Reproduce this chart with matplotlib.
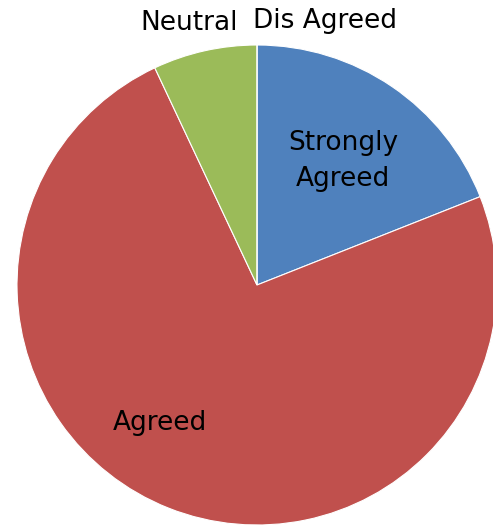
import matplotlib.pyplot as plt

# survey responses (share of respondents, %)
categories = ['Strongly\nAgreed', 'Agreed', 'Neutral', 'Dis Agreed']
shares = [19, 74, 7, 0]
colors = ['#4F81BD', '#C0504D', '#9BBB59', '#8064A2']

# label anchor points in pixel space (origin bottom-left)
label_xy = [(343, 364), (160, 102), (189, 502), (325, 504)]

fig = plt.figure(figsize=(4.93, 5.25), dpi=100)
ax = fig.add_axes([0, 0, 1, 1])

ax.pie(shares, colors=colors, startangle=90, counterclock=False,
       center=(257, 240), radius=240,
       wedgeprops={'edgecolor': 'white', 'linewidth': 0.8})

for name, (x, y) in zip(categories, label_xy):
    ax.text(x, y, name, ha='center', va='center', fontsize=19,
            family='DejaVu Sans', color='black', linespacing=1.5)

ax.set_xlim(0, 493)
ax.set_ylim(0, 525)
ax.set_aspect('equal')
ax.axis('off')

plt.savefig('out.png', dpi=100)
